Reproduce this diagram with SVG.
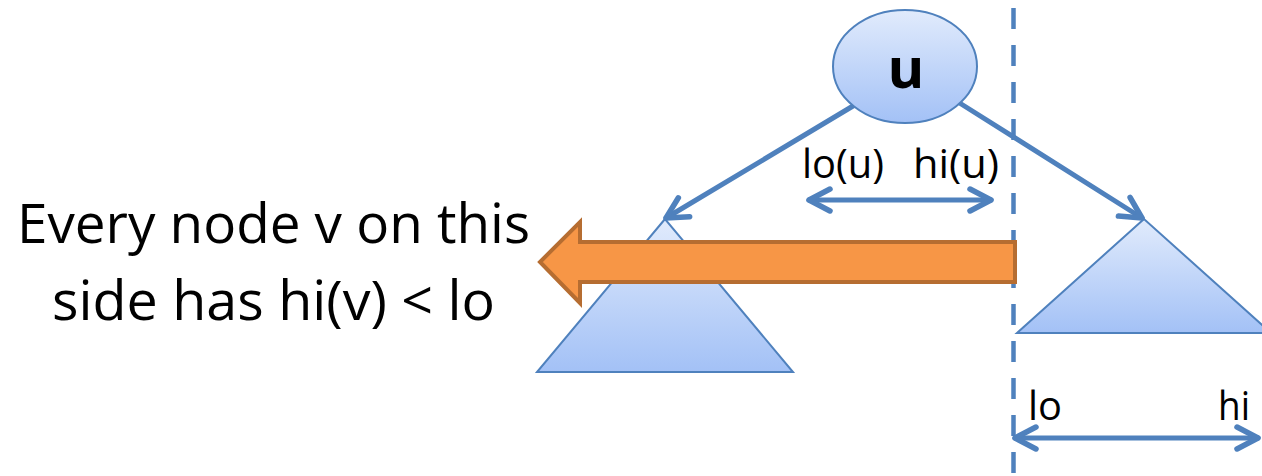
<svg xmlns="http://www.w3.org/2000/svg" width="1262" height="476" viewBox="0 0 1262 476">
  <style>
    .lbl { font-family: "Open Sans", "Noto Sans", "Liberation Sans", sans-serif; fill: #000; }
    .edge { stroke: #4f81bd; stroke-width: 5; fill: none; stroke-linecap: round; }
    .shape { stroke: #4f81bd; stroke-width: 2; }
  </style>
  <defs>
    <linearGradient id="blueFill" x1="0" y1="0" x2="0" y2="1">
      <stop offset="0" stop-color="#e1ebfc"/>
      <stop offset="1" stop-color="#a3c1f6"/>
    </linearGradient>
    <marker id="chev" markerUnits="userSpaceOnUse" markerWidth="40" markerHeight="40" viewBox="-30 -20 40 40" refX="0" refY="0" orient="auto-start-reverse" overflow="visible">
      <path d="M-21,-11 L0,0 L-21,11" fill="none" stroke="#4f81bd" stroke-width="5.5" stroke-linecap="round" stroke-linejoin="round"/>
    </marker>
  </defs>

  <!-- subtrees -->
  <g id="left-subtree">
    <polygon class="shape" points="665,219 537,372 793,372" fill="url(#blueFill)"/>
  </g>
  <g id="right-subtree">
    <polygon class="shape" points="1144,219 1017,333 1271,333" fill="url(#blueFill)"/>
  </g>

  <!-- split line -->
  <g id="split-line">
    <line x1="1013.5" y1="8" x2="1013.5" y2="476" stroke="#4f81bd" stroke-width="4.5" stroke-dasharray="21 16"/>
  </g>

  <!-- left-pointing block arrow -->
  <g id="side-arrow">
    <path d="M1015,242 L580,242 L580,222 L540,262 L580,303 L580,282 L1015,282 Z" fill="#f79646" stroke="#b66d31" stroke-width="4" stroke-linejoin="miter"/>
  </g>

  <!-- connectors -->
  <g id="connectors">
    <line class="edge" x1="853" y1="106" x2="666" y2="218" marker-end="url(#chev)"/>
    <line class="edge" x1="958" y1="102" x2="1142" y2="218" marker-end="url(#chev)"/>
    <line class="edge" x1="809" y1="200" x2="991" y2="200" marker-start="url(#chev)" marker-end="url(#chev)"/>
    <line class="edge" x1="1015" y1="438" x2="1258" y2="438" marker-start="url(#chev)" marker-end="url(#chev)"/>
  </g>

  <!-- root node -->
  <g id="node-u">
    <ellipse cx="905" cy="66.5" rx="72" ry="56.5" fill="url(#blueFill)" stroke="#4f81bd" stroke-width="2"/>
    <text class="lbl" x="906" y="88" font-size="56" font-weight="bold" text-anchor="middle">u</text>
  </g>

  <!-- labels -->
  <g id="labels">
    <text class="lbl" x="802" y="178" font-size="40" textLength="82" lengthAdjust="spacingAndGlyphs">lo(u)</text>
    <text class="lbl" x="913" y="178" font-size="40" textLength="86" lengthAdjust="spacingAndGlyphs">hi(u)</text>
    <text class="lbl" x="1028" y="420" font-size="41" textLength="34" lengthAdjust="spacingAndGlyphs">lo</text>
    <text class="lbl" x="1218" y="420" font-size="41" textLength="32" lengthAdjust="spacingAndGlyphs">hi</text>
    <text class="lbl" x="17" y="243" font-size="55" textLength="513" lengthAdjust="spacingAndGlyphs">Every node v on this</text>
    <text class="lbl" x="52" y="320" font-size="55" textLength="443" lengthAdjust="spacingAndGlyphs">side has hi(v) &lt; lo</text>
  </g>
</svg>
